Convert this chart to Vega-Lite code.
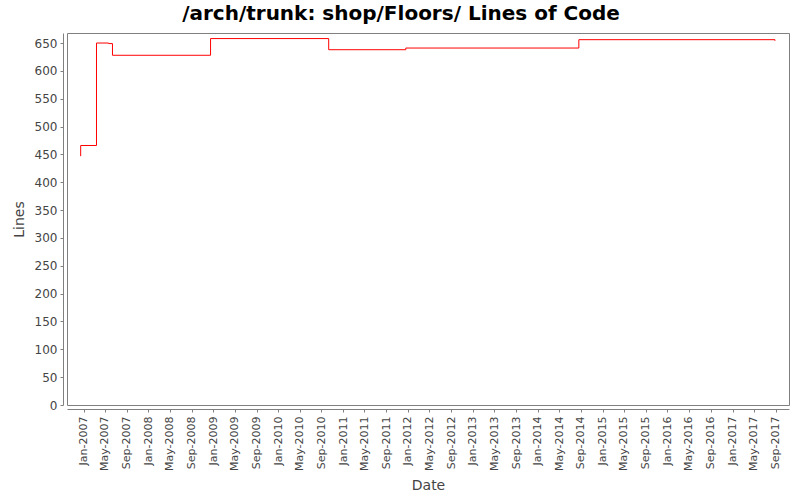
{
  "$schema": "https://vega.github.io/schema/vega-lite/v6.json",
  "width": 722,
  "height": 372,
  "autosize": "none",
  "padding": {"left": 67, "top": 33, "right": 12, "bottom": 95},
  "background": "white",
  "title": {
    "text": "/arch/trunk: shop/Floors/ Lines of Code",
    "font": "DejaVu Sans",
    "fontSize": 20,
    "fontWeight": "bold",
    "color": "black",
    "anchor": "middle",
    "baseline": "alphabetic",
    "offset": 12,
    "dx": -27,
    "dy": 19
  },
  "data": {
    "values": [
      {"date": "2006-12-15", "lines": 447},
      {"date": "2006-12-16", "lines": 466},
      {"date": "2007-03-15", "lines": 650},
      {"date": "2007-05-22", "lines": 649},
      {"date": "2007-06-13", "lines": 628},
      {"date": "2008-12-16", "lines": 658},
      {"date": "2010-10-12", "lines": 638},
      {"date": "2011-12-20", "lines": 641},
      {"date": "2014-08-20", "lines": 656},
      {"date": "2017-08-28", "lines": 654}
    ]
  },
  "mark": {"type": "line", "interpolate": "step-after", "color": "#ff0000", "strokeWidth": 1},
  "encoding": {
    "x": {
      "field": "date",
      "type": "temporal",
      "title": "Date",
      "scale": {
        "type": "utc",
        "domain": [
          {"year": 2006, "month": 9, "date": 30, "utc": true},
          {"year": 2017, "month": 11, "date": 15, "utc": true}
        ],
        "nice": false
      },
      "axis": {
        "tickCount": {"interval": "month", "step": 4},
        "labelExpr": "utcFormat(datum.value, '%b-%Y')",
        "labelAngle": 270,
        "labelAlign": "right",
        "labelBaseline": "middle",
        "labelFontSize": 11,
        "labelPadding": 4,
        "labelOverlap": false,
        "titlePadding": 8
      }
    },
    "y": {
      "field": "lines",
      "type": "quantitative",
      "title": "Lines",
      "scale": {"domain": [0, 668], "nice": false, "zero": true},
      "axis": {
        "values": [0, 50, 100, 150, 200, 250, 300, 350, 400, 450, 500, 550, 600, 650],
        "labelFontSize": 12,
        "labelPadding": 3,
        "titlePadding": 8
      }
    }
  },
  "config": {
    "font": "DejaVu Sans",
    "view": {"stroke": "#808080", "strokeWidth": 1},
    "axis": {
      "offset": 4,
      "grid": false,
      "domainColor": "#808080",
      "tickColor": "#808080",
      "tickSize": 3,
      "labelColor": "#444444",
      "labelFont": "DejaVu Sans",
      "titleFont": "DejaVu Sans",
      "titleFontSize": 14,
      "titleFontWeight": "normal",
      "titleColor": "#444444"
    }
  }
}
